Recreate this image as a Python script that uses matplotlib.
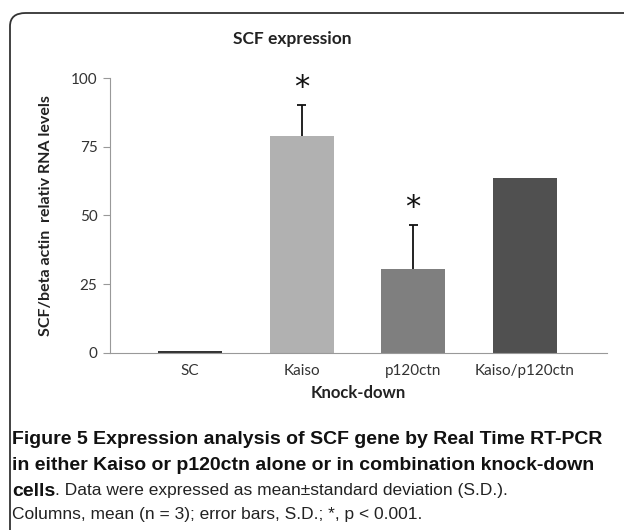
import matplotlib.pyplot as plt
from matplotlib.patches import FancyBboxPatch

# Data
groups = ["SC", "Kaiso", "p120ctn", "Kaiso/p120ctn"]
means = [0.6, 79.0, 30.5, 63.5]
sd_upper = [0, 11.2, 16.0, 0]
stars = [None, "*", "*", None]
bar_colors = ["#333333", "#b1b1b1", "#7f7f7f", "#505050"]

plt.rcParams["font.family"] = ["Lato", "DejaVu Sans"]

fig = plt.figure(figsize=(6.24, 5.30), dpi=100)

# rounded frame around the figure panel
frame = FancyBboxPatch((10 / 624, -0.05), 1.2, 1.05 - 13 / 530,
                       boxstyle="round,pad=0,rounding_size=0.025",
                       transform=fig.transFigure, fill=False,
                       edgecolor="#333333", linewidth=1.3, clip_on=False)
fig.patches.append(frame)

ax = fig.add_axes([110 / 624, (530 - 352.7) / 530, 497 / 624, 274.7 / 530])
x = range(len(groups))
ax.bar(x, means, width=0.575, color=bar_colors)
for i in x:
    if sd_upper[i] > 0:
        ax.vlines(i, means[i], means[i] + sd_upper[i], color="#111111", lw=1.3)
        ax.hlines(means[i] + sd_upper[i], i - 0.04, i + 0.04, color="#111111", lw=1.3)
    if stars[i]:
        ax.text(i, means[i] + sd_upper[i] + 6.5, stars[i], ha="center",
                va="center", fontsize=22, family="DejaVu Sans", color="#111111")

ax.set_xlim(-0.72, 3.74)
ax.set_ylim(0, 100)
ax.set_yticks([0, 25, 50, 75, 100])
ax.set_xticks(list(x))
ax.set_xticklabels(groups)
for side in ["top", "right"]:
    ax.spines[side].set_visible(False)
for side in ["left", "bottom"]:
    ax.spines[side].set_color("#999999")
ax.tick_params(axis="y", colors="#999999", labelcolor="#333333",
               labelsize=11, length=5, pad=4)
ax.tick_params(axis="x", length=0, labelsize=11, labelcolor="#333333", pad=8)

ax.set_ylabel("SCF/beta actin  relativ RNA levels", fontsize=11.5,
              fontweight="bold", color="#222222", labelpad=13)
ax.set_xlabel("Knock-down", fontsize=12, fontweight="bold",
              color="#222222", labelpad=5)
fig.text(292 / 624, 1 - 39 / 530, "SCF expression", ha="center", va="center",
         fontsize=12.5, fontweight="bold", color="#222222")

# caption
cap_font = ["Liberation Sans", "DejaVu Sans"]
x0 = 12 / 624
fig.text(x0, 1 - 439 / 530, "Figure 5 Expression analysis of SCF gene by Real Time RT-PCR",
         fontsize=14, fontweight="bold", family=cap_font, va="center", color="#111111")
fig.text(x0, 1 - 466 / 530, "in either Kaiso or p120ctn alone or in combination knock-down",
         fontsize=14, fontweight="bold", family=cap_font, va="center", color="#111111")
t = fig.text(x0, 1 - 491 / 530, "cells", fontsize=14, fontweight="bold",
             family=cap_font, va="center", color="#111111")
fig.canvas.draw()
bb = t.get_window_extent()
fig.text(bb.x1 / 624, 1 - 491 / 530,
         ". Data were expressed as mean\u00b1standard deviation (S.D.).",
         fontsize=12.5, family=cap_font, va="center", color="#222222")
fig.text(x0, 1 - 515 / 530,
         "Columns, mean (n = 3); error bars, S.D.; *, p < 0.001.",
         fontsize=12.5, family=cap_font, va="center", color="#222222")

fig.savefig("out.png", dpi=100)
